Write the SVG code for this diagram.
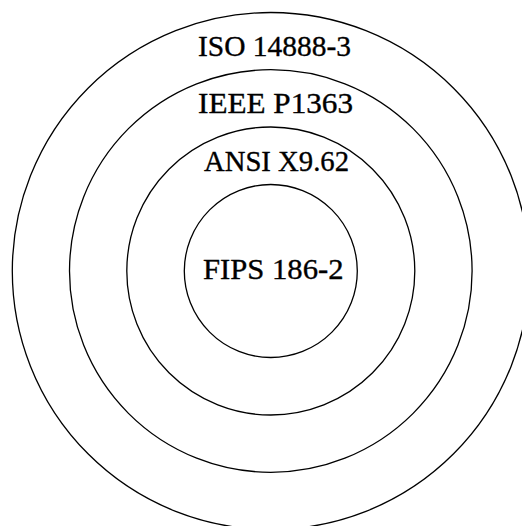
<svg xmlns="http://www.w3.org/2000/svg" width="522" height="526" viewBox="0 0 522 526">
<style>
.ring{fill:none;stroke:#000;stroke-width:1.3}
.lbl{font-family:"Liberation Serif","DejaVu Serif",serif;font-size:29px;fill:#000;stroke:#000;stroke-width:0.35}
</style>
<rect width="522" height="526" fill="#fff"/>
<g id="iso">
<circle class="ring" cx="270.8" cy="271" r="258.5"/>
<text class="lbl" x="198" y="55.5" textLength="153" lengthAdjust="spacingAndGlyphs">ISO 14888-3</text>
</g>
<g id="ieee">
<circle class="ring" cx="270.8" cy="271" r="201.3"/>
<text class="lbl" x="198" y="113" textLength="155" lengthAdjust="spacingAndGlyphs">IEEE P1363</text>
</g>
<g id="ansi">
<circle class="ring" cx="270.8" cy="271" r="144"/>
<text class="lbl" x="204" y="171" textLength="145" lengthAdjust="spacingAndGlyphs">ANSI X9.62</text>
</g>
<g id="fips">
<circle class="ring" cx="270.8" cy="271" r="86.5"/>
<text class="lbl" x="203" y="278.5" textLength="140.5" lengthAdjust="spacingAndGlyphs">FIPS 186-2</text>
</g>
<g id="connectors"/>
</svg>
